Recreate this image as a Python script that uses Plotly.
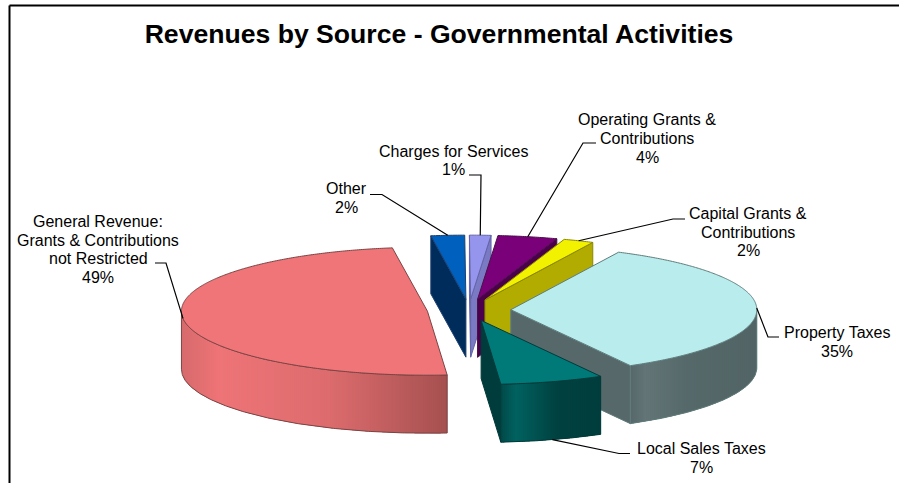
import numpy as np
import plotly.graph_objects as go

# Revenue shares, clockwise from the property-tax slice
sources = [["Property Taxes"], ["Local Sales Taxes"],
           ["General Revenue:", "Grants & Contributions", "not Restricted"],
           ["Other"], ["Charges for Services"],
           ["Operating Grants &", "Contributions"], ["Capital Grants &", "Contributions"]]
shares = [34.7, 6.8, 49.0, 2.2, 1.4, 3.9, 2.0]

top_colors = ["#B9ECEC", "#007A78", "#EF7578", "#0060BE", "#9595EE", "#7A007A", "#F2F200"]
wall_colors = ["#56686A", "#003C3C", "#A85252", "#002C5C", "#7A7AC4", "#4C004C", "#B2AC00"]
edge_colors = ["#5F7C7C", "#003A3A", "#7A4444", "#1C3F6E", "#6464A8", "#4A1048", "#8A8600"]
rim_stops = [
    [(0, "#566869"), (0.12, "#637576"), (0.45, "#56696A"), (1, "#526465")],
    [(0, "#004A49"), (0.15, "#006260"), (0.55, "#004241"), (1, "#003D3C")],
    [(0, "#D66A6C"), (0.14, "#EE7477"), (0.55, "#DD6C6E"), (1, "#A65050")],
]

# Label centres and leader elbows
label_xy = [(837, 342), (701, 458), (98, 249.5), (346, 198), (453, 160.5), (647, 138.5), (748, 232)]
leader_start = [(779, 337), (630, 453.5), (155, 263), (370, 194.5), (469, 175), (596, 143), (685, 219)]
leader_elbow = [(768, 337), (619, 453.5), (166, 263), (382, 194.5), (481, 175), (583, 143), (673, 219)]

title = "Revenues by Source - Governmental Activities"

# Projection of the exploded pie
CX, CY, RX, RY, DEPTH, EXPLODE, START = 469, 310, 246, 64, 58, 0.17, 64.0
LINE_GAP = 18.7
BAND_PX = 2.0


def rim(theta, ox, oy, drop=0.0):
    t = np.radians(theta)
    return ox + RX * np.cos(t), oy - RY * np.sin(t) + drop


def poly(fig, xs, ys, fill, line=None):
    fig.add_trace(go.Scatter(
        x=list(xs) + [xs[0]], y=list(ys) + [ys[0]], mode="lines", fill="toself",
        fillcolor=fill, line=dict(color=line or fill, width=1 if line else 0, simplify=False),
        hoverinfo="skip", showlegend=False))


def mix(stops, t):
    rgb = [[int(c[i:i + 2], 16) for i in (1, 3, 5)] for _, c in stops]
    pos = [p for p, _ in stops]
    return "rgb({:.0f},{:.0f},{:.0f})".format(*[np.interp(t, pos, [v[k] for v in rgb]) for k in range(3)])


def offset(mid):
    t = np.radians(mid)
    return CX + EXPLODE * RX * np.cos(t), CY - EXPLODE * RY * np.sin(t)


fig = go.Figure()

# Slice angles, running clockwise
ends = START - np.cumsum(shares) * 3.6
starts = np.concatenate([[START], ends[:-1]])
mids = (starts + ends) / 2
order = np.argsort(-np.sin(np.radians(mids)) - 1e-3 * np.arange(len(shares)))

for i in order:
    a, b, m = starts[i], ends[i], mids[i]
    ox, oy = offset(m)

    # Radial walls that face the viewer
    for edge, visible in ((a, np.cos(np.radians(a)) < 0), (b, np.cos(np.radians(b)) > 0)):
        if visible:
            x1, y1 = rim(edge, ox, oy)
            poly(fig, [ox, x1, x1, ox], [oy, y1, y1 + DEPTH, oy + DEPTH], wall_colors[i], edge_colors[i])

    # Curved outer wall: front half only, shaded in columns of equal width
    if i < len(rim_stops):
        t_hi, t_lo = min(a, 0.0), max(b, -180.0)
        x_hi = rim(t_lo, ox, oy)[0] if False else None
        x_left = ox + RX * np.cos(np.radians(t_lo))
        x_right = ox + RX * np.cos(np.radians(t_hi))
        n_bands = int((x_right - x_left) / BAND_PX)
        columns = np.linspace(x_left, x_right, n_bands + 1)
        for k in range(n_bands):
            # Each column overlaps its right neighbour so no seam shows
            x_pts = np.linspace(columns[k], min(columns[k] + 2 * BAND_PX, x_right), 5)
            by = oy + RY * np.sqrt(np.clip(1 - ((x_pts - ox) / RX) ** 2, 0, 1))
            poly(fig, list(x_pts) + list(x_pts[::-1]), list(by) + list((by + DEPTH)[::-1]),
                 mix(rim_stops[i], (k + 0.5) / n_bands))
        theta = np.linspace(t_hi, t_lo, 200)
        bx, by = rim(theta, ox, oy)
        fig.add_trace(go.Scatter(
            x=list(bx) + list(bx[::-1]) + [bx[0]],
            y=list(by) + list((by + DEPTH)[::-1]) + [by[0]],
            mode="lines", line=dict(color=edge_colors[i], width=1),
            hoverinfo="skip", showlegend=False))

    # Top face
    theta = np.linspace(a, b, max(3, int(abs(a - b) * 2)))
    tx, ty = rim(theta, ox, oy)
    poly(fig, [ox] + list(tx), [oy] + list(ty), top_colors[i], edge_colors[i])

# Leader lines run from each label to the rim of its slice
for i, m in enumerate(mids):
    ox, oy = offset(m)
    drop = DEPTH if np.sin(np.radians(m)) < -0.5 else 0
    ex, ey = rim(m, ox, oy, drop)
    fig.add_trace(go.Scatter(
        x=[leader_start[i][0], leader_elbow[i][0], ex],
        y=[leader_start[i][1], leader_elbow[i][1], ey],
        mode="lines", line=dict(color="#000000", width=1.2),
        hoverinfo="skip", showlegend=False))

# Category and percentage labels, one annotation per line for tight leading
for name, share, (lx, ly) in zip(sources, shares, label_xy):
    lines = name + [f"{round(share)}%"]
    for n, text in enumerate(lines):
        fig.add_annotation(x=lx, y=ly + (n - (len(lines) - 1) / 2) * LINE_GAP,
                           xref="x", yref="y", showarrow=False, text=text,
                           xanchor="center", yanchor="middle",
                           font=dict(family="Liberation Sans", size=16, color="#000000"))

# Frame: top and left rules only
frame = dict(color="#000000", width=2)
fig.add_shape(type="line", xref="x", yref="y", x0=9.5, x1=899, y0=5.5, y1=5.5, line=frame)
fig.add_shape(type="line", xref="x", yref="y", x0=9.5, x1=9.5, y0=5.5, y1=483, line=frame)

fig.update_layout(
    width=899, height=483, margin=dict(l=0, r=0, t=0, b=0),
    paper_bgcolor="#FFFFFF", plot_bgcolor="#FFFFFF", showlegend=False,
    title=dict(text=f"<b>{title}</b>", x=439 / 899, xanchor="center",
               y=1 - 34 / 483, yanchor="middle",
               font=dict(family="Liberation Sans", size=26.6, color="#000000")),
    xaxis=dict(range=[0, 899], visible=False, fixedrange=True),
    yaxis=dict(range=[483, 0], visible=False, fixedrange=True),
)

fig.write_html("out.html", config={"displayModeBar": False})
